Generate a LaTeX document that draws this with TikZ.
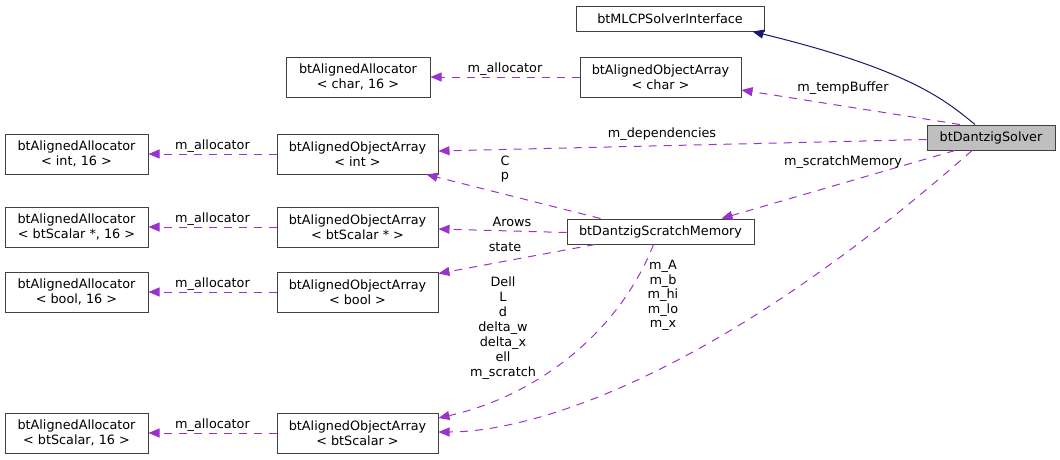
\documentclass[tikz,border=0pt]{standalone}
\usepackage{fontspec}
\setmainfont{DejaVu Sans}
\usetikzlibrary{arrows.meta}
\definecolor{edgeviolet}{HTML}{9A32CD}
\definecolor{edgenavy}{HTML}{191970}
\tikzset{
  cls/.style={draw=black!75, fill=white, line width=1pt, inner sep=0pt, align=center, minimum height=25pt},
  twoline/.style={minimum height=40pt},
  usage/.style={draw=edgeviolet, dash pattern=on 8pt off 7pt, line width=1pt, -{Triangle[length=11pt,width=9pt]}},
  inherit/.style={draw=edgenavy, line width=1pt, -{Triangle[length=11pt,width=9pt]}},
  lbl/.style={inner sep=1pt, align=center}
}
\begin{document}
\begin{tikzpicture}[x=1pt, y=-1pt, font=\fontsize{12.8}{14.5}\selectfont]
  \useasboundingbox (0,0) rectangle (1060,459);
  % classes
  \node[cls, minimum width=188pt] (mlcp) at (670,18.5) {btMLCPSolverInterface};
  \node[cls, twoline, minimum width=161pt] (chararr) at (660.5,77) {btAlignedObjectArray\\< char >};
  \node[cls, twoline, minimum width=144pt] (charalloc) at (358,77) {btAlignedAllocator\\< char, 16 >};
  \node[cls, fill=black!25, minimum width=128pt] (dz) at (991,137.5) {btDantzigSolver};
  \node[cls, twoline, minimum width=143pt] (intalloc) at (76.5,154) {btAlignedAllocator\\< int, 16 >};
  \node[cls, twoline, minimum width=161pt] (intarr) at (357.5,154) {btAlignedObjectArray\\< int >};
  \node[cls, twoline, minimum width=143pt] (ptralloc) at (76.5,227) {btAlignedAllocator\\< btScalar *, 16 >};
  \node[cls, twoline, minimum width=161pt] (ptrarr) at (357.5,227) {btAlignedObjectArray\\< btScalar * >};
  \node[cls, minimum width=187pt] (scratch) at (660.5,231.5) {btDantzigScratchMemory};
  \node[cls, twoline, minimum width=143pt] (boolalloc) at (76.5,292) {btAlignedAllocator\\< bool, 16 >};
  \node[cls, twoline, minimum width=161pt] (boolarr) at (357.5,292) {btAlignedObjectArray\\< bool >};
  \node[cls, twoline, minimum width=143pt] (scalalloc) at (76.5,433) {btAlignedAllocator\\< btScalar, 16 >};
  \node[cls, twoline, minimum width=161pt] (scalarr) at (357.5,433) {btAlignedObjectArray\\< btScalar >};
  % solver
  \draw[inherit] ([xshift=-16pt]dz.north) .. controls (945,100) and (910,70) .. ([xshift=-12pt]mlcp.south east);
  \draw[usage] ([xshift=-31pt]dz.north) -- ([yshift=-13pt]chararr.east);
  \node[lbl] (ltemp) at (843,88) {m\_tempBuffer};
  \draw[usage] ([yshift=-2pt]dz.west) -- ([yshift=3pt]intarr.east);
  \node[lbl] (ldep) at (662,134) {m\_dependencies};
  \draw[usage] ([xshift=-36pt]dz.south) -- ([xshift=61pt]scratch.north);
  \node[lbl] (lscr) at (843,162) {m\_scratchMemory};
  \draw[usage] ([xshift=-19pt]dz.south) .. controls (700,390) and (520,432) .. ([yshift=1pt]scalarr.east);
  \node[lbl] (lmem) at (663,295.5) {m\_A\\m\_b\\m\_hi\\m\_lo\\m\_x};
  % scratch memory
  \draw[usage] ([xshift=-60pt]scratch.north) -- ([xshift=-12pt]intarr.south east);
  \node[lbl] (lcp) at (505,169) {C\\p};
  \draw[usage] ([yshift=-1pt]scratch.west) -- ([yshift=-2pt]ptrarr.east);
  \node[lbl] (larows) at (512,222) {Arows};
  \draw[usage] ([xshift=-65.5pt]scratch.south) -- ([yshift=-2pt]boolarr.north east);
  \node[lbl] (lstate) at (505,247) {state};
  \draw[usage] ([xshift=-7pt]scratch.south) .. controls (620,330) and (540,395) .. ([yshift=15pt]scalarr.east);
  \node[lbl, font=\fontsize{12.8}{15}\selectfont] (lscratch) at (503,328) {Dell\\L\\d\\delta\_w\\delta\_x\\ell\\m\_scratch};
  % allocators
  \draw[usage] (chararr) -- node[lbl, above] (lchar) {m\_allocator} (charalloc);
  \draw[usage] (intarr) -- node[lbl, above] (lint) {m\_allocator} (intalloc);
  \draw[usage] (ptrarr) -- node[lbl, above] (lptr) {m\_allocator} (ptralloc);
  \draw[usage] (boolarr) -- node[lbl, above] (lbool) {m\_allocator} (boolalloc);
  \draw[usage] (scalarr) -- node[lbl, above] (lscal) {m\_allocator} (scalalloc);
\end{tikzpicture}
\end{document}
